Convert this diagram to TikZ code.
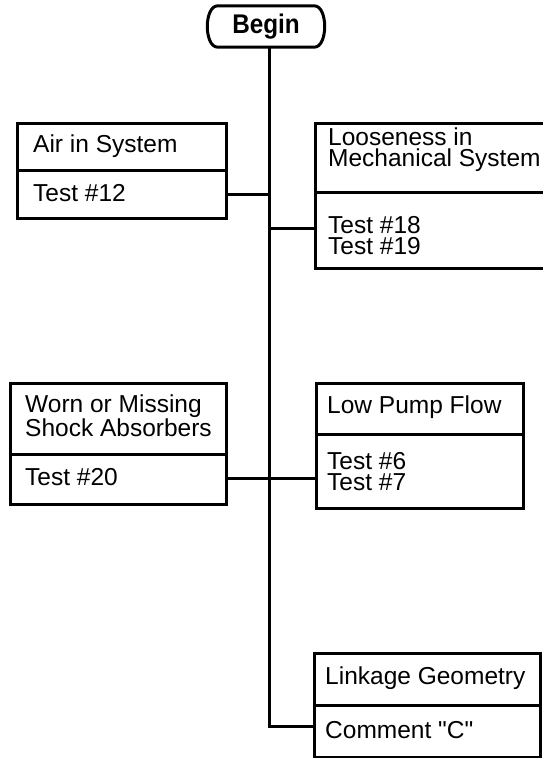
\documentclass[tikz,border=0pt]{standalone}
\usepackage{fontspec}
\setmainfont{Liberation Sans}[Ligatures=TeXOff]
\begin{document}
\begin{tikzpicture}[x=1pt,y=-1pt,
  every node/.style={font=\fontsize{24.5}{21}\selectfont},
  sect/.style={draw, line width=3pt, rectangle, inner xsep=0pt, inner ysep=0pt, anchor=north west},
  lbl/.style={anchor=west, inner sep=0pt, align=left},
  wire/.style={line width=3pt},
  startbox/.style={minimum width=122pt, minimum height=41pt, inner sep=0pt, font=\fontsize{27}{27}\selectfont\bfseries}]
\useasboundingbox (0,0) rectangle (543,758);
% Begin
\node[startbox] (begin) at (266,26.5) {\scalebox{0.9}[1]{Begin}};
\draw[wire, line join=round] ([xshift=13pt]begin.north west) -- ([xshift=-13pt]begin.north east)
  .. controls ([xshift=1pt]begin.north east) and ([xshift=1pt]begin.south east) .. ([xshift=-13pt]begin.south east)
  -- ([xshift=13pt]begin.south west)
  .. controls ([xshift=-1pt]begin.south west) and ([xshift=-1pt]begin.north west) .. cycle;
% Air in System
\node[sect, minimum width=209pt, minimum height=47pt] (airT) at (16,122) {};
\node[sect, minimum width=209pt, minimum height=48pt] (airB) at (16,169) {};
\node[lbl] (airTt) at (33,146) {Air in System};
\node[lbl] (airBt) at (33,193) {Test \#12};
% Looseness
\node[sect, minimum width=250pt, minimum height=69pt] (looT) at (314,122) {};
\node[sect, minimum width=250pt, minimum height=76pt] (looB) at (314,191) {};
\node[lbl] (looTt) at (328,150) {Looseness in\\Mechanical System};
\node[lbl] (looBt) at (328,236) {Test \#18\\Test \#19};
% Worn
\node[sect, minimum width=216pt, minimum height=71pt] (worT) at (9,382) {};
\node[sect, minimum width=216pt, minimum height=50pt] (worB) at (9,453) {};
\node[lbl] (worTt) at (25,416) {Worn or Missing\\Shock Absorbers};
\node[lbl] (worBt) at (25,477) {Test \#20};
% Low Pump Flow
\node[sect, minimum width=207pt, minimum height=51pt] (lowT) at (315,382) {};
\node[sect, minimum width=207pt, minimum height=74pt] (lowB) at (315,433) {};
\node[lbl] (lowTt) at (327,407) {Low Pump Flow};
\node[lbl] (lowBt) at (327,472) {Test \#6\\Test \#7};
% Linkage
\node[sect, minimum width=226pt, minimum height=52pt] (linT) at (313,652) {};
\node[sect, minimum width=226pt, minimum height=52pt] (linB) at (313,704) {};
\node[lbl] (linTt) at (325,678) {Linkage Geometry};
\node[lbl] (linBt) at (325,730) {Comment "C"};
% trunk
\coordinate (j1) at (269,194);
\coordinate (j2) at (269,228);
\coordinate (j3) at (269,478);
\coordinate (tend) at (269,726);
\draw[wire] (begin.south -| tend) -- (tend) -- (tend -| linB.west);
\draw[wire] (j1 -| airB.east) -- (j1);
\draw[wire] (j2) -- (j2 -| looB.west);
\draw[wire] (j3 -| worB.east) -- (j3) -- (j3 -| lowB.west);
\end{tikzpicture}
\end{document}
